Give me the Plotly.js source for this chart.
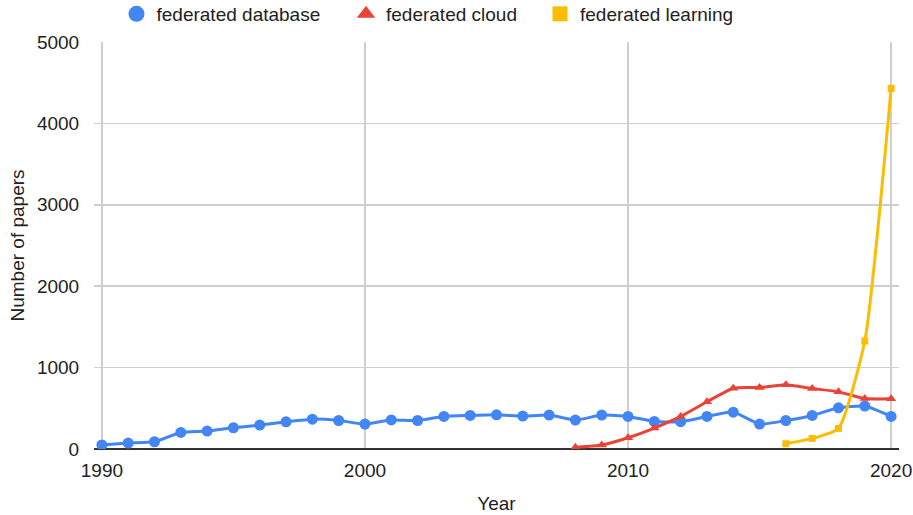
<!DOCTYPE html>
<html>
<head>
<meta charset="utf-8">
<script src="https://cdn.plot.ly/plotly-3.0.1.min.js"></script>
<style>html,body{margin:0;padding:0;background:#fff;}#chart{width:913px;height:515px;}</style>
</head>
<body>
<div id="chart"></div>
<script>
const dbYears = [1990,1991,1992,1993,1994,1995,1996,1997,1998,1999,2000,2001,2002,2003,2004,2005,2006,2007,2008,2009,2010,2011,2012,2013,2014,2015,2016,2017,2018,2019,2020];
const dbValues = [49,73,89,203,220,261,294,334,367,350,306,357,350,400,412,420,404,417,355,417,400,338,335,400,453,306,350,412,506,527,400];
const cloudYears = [2008,2009,2010,2011,2012,2013,2014,2015,2016,2017,2018,2019,2020];
const cloudValues = [20,49,138,257,400,580,747,755,788,743,702,620,616];
const learnYears = [2016,2017,2018,2019,2020];
const learnValues = [65,130,253,1327,4431];
const xTicks = [1990,2000,2010,2020];
const yTicks = [0,1000,2000,3000,4000,5000];
const seriesNames = ['federated database','federated cloud','federated learning'];
const seriesColors = ['#4285F4','#EA4335','#FBBC04'];

const axisFont = {family: 'Liberation Sans, Arial, sans-serif', size: 19, color: '#222'};
const legendFont = {family: 'Liberation Sans, Arial, sans-serif', size: 19, color: '#222'};

const traces = [
  {x: dbYears, y: dbValues, name: seriesNames[0], type: 'scatter', mode: 'lines+markers', showlegend: false,
   line: {color: seriesColors[0], width: 3, shape: 'spline', smoothing: 0.5},
   marker: {color: seriesColors[0], size: 11, symbol: 'circle'}},
  {x: cloudYears, y: cloudValues, name: seriesNames[1], type: 'scatter', mode: 'lines+markers', showlegend: false,
   line: {color: seriesColors[1], width: 3, shape: 'spline', smoothing: 0.5},
   marker: {color: seriesColors[1], size: 9, symbol: 'triangle-up'}},
  {x: learnYears, y: learnValues, name: seriesNames[2], type: 'scatter', mode: 'lines+markers', showlegend: false,
   line: {color: seriesColors[2], width: 3, shape: 'spline', smoothing: 0.5},
   marker: {color: seriesColors[2], size: 7, symbol: 'square'}},
  // legend entries (markers only)
  {x: [null], y: [null], name: seriesNames[0], type: 'scatter', mode: 'markers', showlegend: true, legend: 'legend',
   marker: {color: seriesColors[0], size: 19, symbol: 'circle'}},
  {x: [null], y: [null], name: seriesNames[1], type: 'scatter', mode: 'markers', showlegend: true, legend: 'legend2',
   marker: {color: seriesColors[1], size: 16, symbol: 'triangle-up'}},
  {x: [null], y: [null], name: seriesNames[2], type: 'scatter', mode: 'markers', showlegend: true, legend: 'legend3',
   marker: {color: seriesColors[2], size: 15, symbol: 'square'}}
];

function leg(px) {
  return {orientation: 'h', xref: 'container', yref: 'container', x: px / 913, y: (515 - 14) / 515,
          xanchor: 'left', yanchor: 'middle', font: legendFont, bgcolor: 'rgba(0,0,0,0)'};
}

const layout = {
  width: 913, height: 515,
  margin: {l: 94, r: 14, t: 42, b: 66},
  paper_bgcolor: '#fff', plot_bgcolor: '#fff',
  font: axisFont,
  showlegend: true,
  legend: leg(116.5), legend2: leg(346), legend3: leg(540),
  xaxis: {range: [1989.7, 2020.3], tickvals: xTicks, ticktext: xTicks.map(String),
          showgrid: true, gridcolor: '#cfcfcf', gridwidth: 1.5, zeroline: false, showline: false,
          ticks: 'outside', ticklen: 4, tickcolor: 'rgba(0,0,0,0)', tickfont: axisFont,
          title: {text: 'Year', font: axisFont, standoff: 16}},
  yaxis: {range: [0, 5000], tickvals: yTicks,
          showgrid: true, gridcolor: '#cfcfcf', gridwidth: 1.5,
          zeroline: true, zerolinecolor: '#333333', zerolinewidth: 2, showline: false,
          ticks: 'outside', ticklen: 10, tickcolor: 'rgba(0,0,0,0)', tickfont: axisFont,
          title: {text: 'Number of papers', font: axisFont, standoff: 7}}
};

Plotly.newPlot('chart', traces, layout, {displayModeBar: false, staticPlot: true});
</script>
</body>
</html>
